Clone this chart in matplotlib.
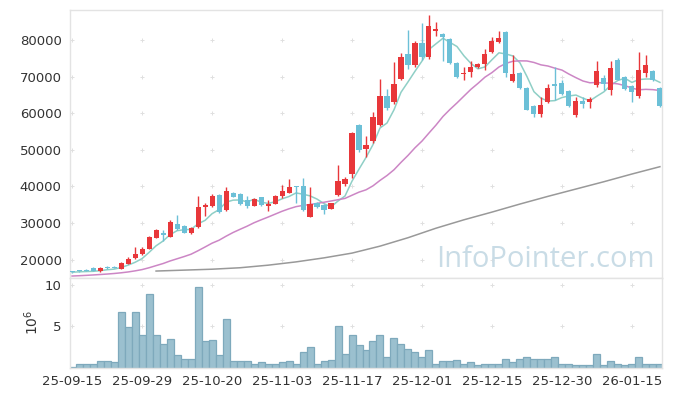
import numpy as np
import pandas as pd
import matplotlib
matplotlib.use("Agg")
import matplotlib.pyplot as plt

# daily OHLC (KRW), 85 trading days from 25-09-15 to 26-01-21
opens = [16600, 16850, 17200, 17650, 16830, 17950, 18100, 17550, 18900, 20460,
         21640, 23000, 26000, 27300, 26280, 29760, 29200, 27380, 29000, 34400,
         34670, 37680, 33580, 38220, 37950, 36230, 34750, 37050, 34800, 35300,
         37400, 38300, 40100, 40140, 31750, 35500, 35030, 33940, 37680, 40690,
         43420, 56800, 50250, 52430, 56800, 64730, 63030, 69450, 76200, 73100,
         79290, 75460, 82560, 81750, 80240, 73740, 70660, 71280, 72630, 73470,
         76670, 79480, 82130, 68720, 71100, 66920, 62000, 59800, 63170, 68000,
         68200, 66100, 59560, 63400, 63000, 67600, 69740, 66470, 74570, 69920,
         67450, 64650, 71100, 71560, 66830]
highs = [16700, 16950, 17350, 17900, 17900, 18300, 18200, 19500, 20700, 23400,
         23500, 26500, 28400, 28100, 30800, 32100, 29500, 28900, 37400, 35570,
         38000, 37900, 39860, 38400, 38100, 37400, 36800, 37200, 36300, 37700,
         40400, 41970, 40140, 42240, 39780, 35700, 35300, 35600, 45870, 42500,
         54800, 57000, 53800, 60300, 69370, 66720, 74000, 76400, 82760, 79800,
         84600, 86860, 85030, 82000, 80500, 74000, 72540, 74290, 73700, 77570,
         80930, 82400, 82490, 75900, 71300, 67200, 62200, 64530, 67920, 72730,
         69000, 66300, 64530, 64530, 64370, 74290, 70470, 74380, 75000, 70200,
         67700, 76750, 75850, 71750, 67270]
lows = [16400, 16700, 16800, 16950, 16750, 17550, 17600, 17400, 18800, 20300,
        21400, 22800, 25800, 25200, 26100, 28000, 27200, 26900, 28700, 31900,
        34500, 32800, 33400, 37000, 35000, 34000, 34600, 34800, 33400, 35100,
        36780, 38100, 35570, 33400, 31600, 34200, 32490, 33800, 37500, 40000,
        42240, 49500, 48140, 52000, 56500, 61000, 62500, 69000, 72000, 72500,
        74500, 74800, 81120, 74290, 73400, 69600, 69100, 69840, 72300, 71840,
        76400, 79200, 69840, 68400, 66600, 60800, 58900, 58900, 62800, 63630,
        65000, 61800, 59070, 61450, 61370, 67300, 66370, 64920, 69000, 66400,
        63110, 64300, 69840, 68740, 61800]
closes = [16560, 16830, 16900, 17000, 17700, 17850, 17650, 19100, 20270, 21560,
          22920, 26120, 28100, 26800, 30300, 28300, 27380, 28660, 34400, 34950,
          37400, 33000, 38770, 37200, 35220, 34750, 36580, 34950, 35300, 37500,
          38770, 39780, 39800, 33580, 35220, 34400, 33580, 35410, 41520, 42050,
          54700, 50000, 51340, 59070, 64730, 61530, 68000, 75300, 73200, 79300,
          75460, 83850, 83020, 80770, 73660, 69840, 71100, 72630, 73470, 76200,
          79670, 80570, 71040, 70750, 66830, 61000, 59800, 62180, 66830, 67460,
          65190, 61960, 63400, 62620, 63820, 71560, 67880, 72490, 69100, 66720,
          65920, 71830, 73200, 69100, 62100]
# volume, millions of shares
volume = [0.1, 0.4, 0.4, 0.5, 0.75, 0.75, 0.65, 6.75, 4.9, 6.75,
          4.0, 8.9, 4.0, 2.9, 3.5, 1.5, 1.1, 1.0, 9.75, 3.2,
          3.4, 1.5, 5.9, 0.75, 0.75, 0.75, 0.4, 0.65, 0.4, 0.5,
          0.65, 0.75, 0.5, 1.95, 2.45, 0.4, 0.75, 0.9, 5.1, 1.6,
          3.9, 2.7, 2.1, 3.2, 4.0, 1.25, 3.65, 2.9, 2.3, 1.85,
          1.25, 2.1, 0.5, 0.75, 0.75, 0.9, 0.4, 0.65, 0.3, 0.5,
          0.5, 0.4, 1.0, 0.65, 1.0, 1.25, 1.1, 1.1, 1.1, 1.25,
          0.4, 0.4, 0.3, 0.3, 0.3, 1.7, 0.3, 0.75, 0.5, 0.3,
          0.5, 1.25, 0.5, 0.4, 0.5]

# 20-day average for the first 19 days (depends on earlier days not shown)
ma20_head = [15540, 15620, 15720, 15830, 15950, 16080, 16230, 16420, 16650, 16950,
             17300, 17800, 18380, 18950, 19650, 20250, 20850, 21500, 22450]
# long moving average
ma_long_idx = [12, 16, 20, 24, 28, 32, 36, 40, 44, 48, 52, 56, 60, 64, 68, 72, 76, 80, 84]
ma_long_val = [16900, 17150, 17400, 17800, 18500, 19400, 20500, 21800, 23700, 26000,
               28600, 30900, 33000, 35200, 37300, 39300, 41300, 43400, 45400]

tick_idx = [0, 10, 20, 30, 40, 50, 60, 70, 80]
tick_labels = ['25-09-15', '25-09-29', '25-10-20', '25-11-03', '25-11-17',
               '25-12-01', '25-12-15', '25-12-30', '26-01-15']
price_ticks = [20000, 30000, 40000, 50000, 60000, 70000, 80000]
vol_ticks = [5, 10]

UP = '#e8373a'
DOWN = '#6cc0d7'
GRID = '#e0e0e0'
SPINE = '#e3e3e3'
TXT = '#333333'

plt.rcParams['font.family'] = ['DejaVu Sans']

o = np.array(opens, float)
h = np.array(highs, float)
l = np.array(lows, float)
c = np.array(closes, float)
x = np.arange(len(c))

ma5 = pd.Series(c).rolling(5, min_periods=1).mean().values
ma20 = pd.Series(c).rolling(20).mean().values
ma20[:len(ma20_head)] = ma20_head

fig = plt.figure(figsize=(6.73, 3.96), dpi=100)
ax = fig.add_axes([70 / 673, 118 / 396, 592 / 673, 268 / 396])
axv = fig.add_axes([70 / 673, 28.3 / 396, 592 / 673, 89.7 / 396], sharex=ax)

for a in (ax, axv):
    for s in a.spines.values():
        s.set_color(SPINE)
        s.set_linewidth(1)
    a.tick_params(length=0, colors=TXT, labelsize=9.5)

# grid crosses
gx, gy = np.meshgrid(tick_idx, price_ticks)
ax.scatter(gx.ravel(), gy.ravel(), marker='+', s=12, color=GRID, linewidths=0.7, zorder=0)
gx, gy = np.meshgrid(tick_idx, vol_ticks)
axv.scatter(gx.ravel(), gy.ravel(), marker='+', s=12, color=GRID, linewidths=0.7, zorder=0)

# watermark
ax.text(0.988, 0.041, 'InfoPointer.com', transform=ax.transAxes, ha='right', va='baseline',
        fontsize=21, color='#c9dce6', family='Open Sans', zorder=1)

# moving averages
ax.plot(x, ma5, color='#8fcfc6', lw=1.1, zorder=3)
ax.plot(x, ma20, color='#cc86c5', lw=1.1, zorder=3)
ax.plot(ma_long_idx, ma_long_val, color='#999999', lw=1.1, zorder=3)

# candles
up = c >= o
cols = np.where(up, UP, DOWN)
ax.vlines(x, l, h, colors=cols, lw=1.0, zorder=4)
body_lo = np.minimum(o, c)
body_h = np.maximum(np.abs(c - o), 250)
ax.bar(x, body_h, bottom=body_lo, width=0.72, color=cols, linewidth=0, zorder=5)

ax.set_ylim(15000, 88200)
ax.set_yticks(price_ticks)
ax.set_xlim(-0.3, 84.3)
ax.tick_params(axis='x', labelbottom=False)
ax.tick_params(axis='y', pad=6)

# volume
axv.bar(x, volume, width=1.0, color='#9bc0cf', edgecolor='#7ea9bc', linewidth=0.9, zorder=2)
axv.set_ylim(0, 10.85)
axv.set_yticks(vol_ticks)
axv.set_xticks(tick_idx)
axv.set_xticklabels(tick_labels)
axv.tick_params(axis='x', pad=5)
axv.tick_params(axis='y', pad=6)
axv.set_ylabel('10$^6$', color=TXT, fontsize=10, labelpad=3)

fig.savefig('out.png', dpi=100)
